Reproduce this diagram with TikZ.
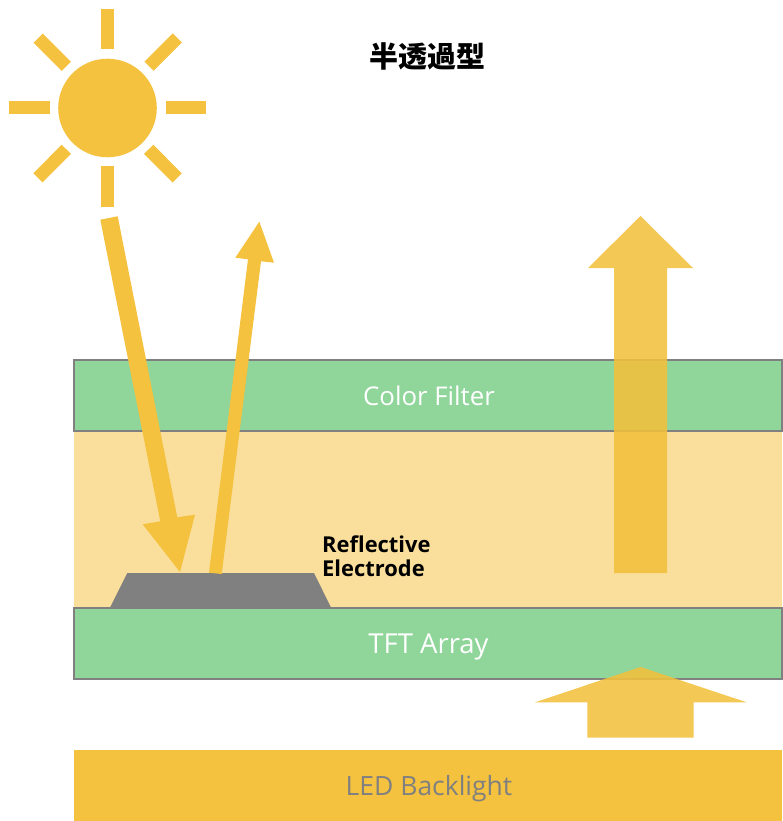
\documentclass[tikz,border=0pt]{standalone}
\usepackage{fontspec}
\setmainfont{Open Sans}
\newfontfamily\cjkfont{Noto Sans CJK JP}
\definecolor{sunyellow}{HTML}{F4C23F}
\definecolor{glowyellow}{HTML}{F2C03C}
\definecolor{cellgreen}{HTML}{90D59A}
\definecolor{lcband}{HTML}{F9DF9B}
\definecolor{edgegray}{HTML}{808080}
\tikzset{
  ray/.style={draw=sunyellow,line width=13pt,line cap=butt},
  beam/.style={fill=sunyellow},
  glow/.style={fill=glowyellow,fill opacity=0.88},
  layer/.style={draw=edgegray,line width=2pt,fill=cellgreen,minimum width=708pt,minimum height=71pt,inner sep=0pt},
  layertext/.style={inner sep=0pt,anchor=base},
  tag/.style={font=\fontsize{21.9}{25}\selectfont\bfseries,align=left,inner sep=0pt,anchor=west}
}
\begin{document}
\begin{tikzpicture}[x=1pt,y=-1pt]
\useasboundingbox (0,0) rectangle (783,821);

% liquid crystal band and the stacked layers
\fill[lcband] (74,431) rectangle (782,608);
\node[layer] (filter) at (428,395.5) {};
\node[layer] (tft) at (428,643.5) {};
\node[fill=sunyellow,minimum width=708pt,minimum height=71pt,inner sep=0pt] (led) at (428,785.5) {};

% reflective electrode
\fill[edgegray] (127.3,573) -- (314,573) -- (331,607.5) -- (110,607.5) -- cycle;

% sun
\fill[sunyellow] (107.5,108) circle [radius=49.3];
\draw[ray] (107.5,9) -- (107.5,49.5);
\draw[ray] (107.5,166) -- (107.5,207);
\draw[ray] (9,108) -- (49.5,108);
\draw[ray] (166,108) -- (206,108);
\draw[ray] (38.2,38.2) -- (66.3,66.3);
\draw[ray] (177.3,38) -- (149,66.2);
\draw[ray] (38,177.8) -- (66.3,149.3);
\draw[ray] (177.2,178) -- (148.7,149.3);

% incoming and reflected light
\fill[beam] (100.3,219.7) -- (117.7,216.3) -- (177.3,517.3) -- (195,514.7) -- (180,572) -- (142.7,524.3) -- (160.3,521.3) -- cycle;
\fill[beam] (209,572.7) -- (221.7,574) -- (261,261.3) -- (274,262.7) -- (259.3,221.7) -- (235.3,257.7) -- (248,259.3) -- cycle;

% backlight transmission
\fill[glow] (614,573) -- (667,573) -- (667,268) -- (693,268) -- (640.5,216) -- (588,268) -- (614,268) -- cycle;
\fill[glow] (587.3,737.7) -- (693.7,737.7) -- (693.7,702.3) -- (746.7,702.3) -- (640.5,667) -- (535,702.3) -- (587.3,702.3) -- cycle;

% labels
\node[layertext,text=white,font=\fontsize{25.8}{30}\selectfont] (filterlabel) at (429,405) {Color Filter};
\node[layertext,text=white,font=\fontsize{27.5}{30}\selectfont] (tftlabel) at (428.5,653) {TFT Array};
\node[layertext,text=edgegray,font=\fontsize{26.5}{30}\selectfont] (ledlabel) at (429,795.5) {LED Backlight};
\node[tag] (electrodelabel) at (322,556) {Reflective\\[-0.5pt]Electrode};
\node[inner sep=0pt,font=\cjkfont\bfseries\fontsize{29}{33}\selectfont] (title) at (427,56) {半透過型};
\end{tikzpicture}
\end{document}
